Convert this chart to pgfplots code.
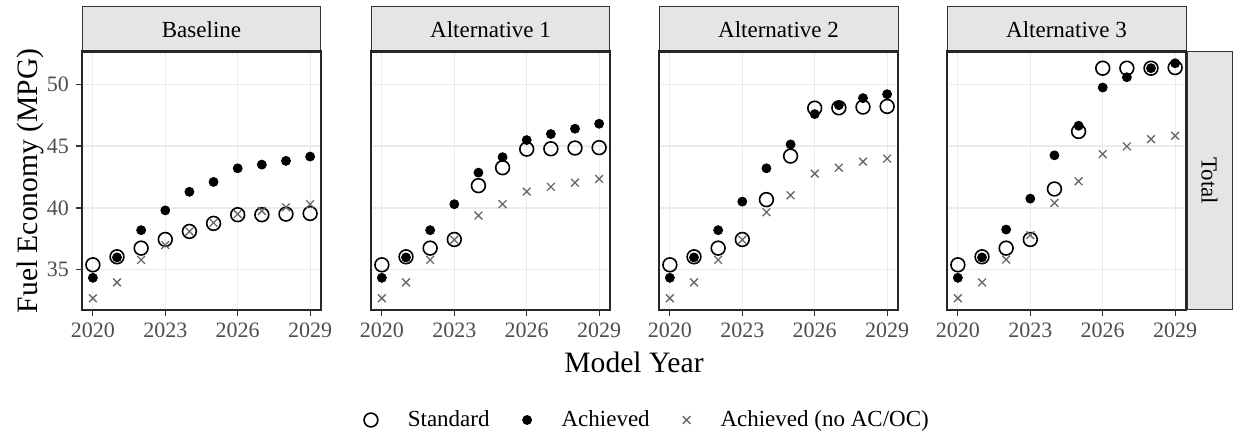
\documentclass[border=0pt]{standalone}
\usepackage{pgfplots}
\pgfplotsset{compat=1.18}
\usepackage{pgfplotstable}
\usepackage{fontspec}
\setmainfont{Liberation Serif}
\definecolor{gridc}{RGB}{235,235,235}
\definecolor{stripfill}{RGB}{229,229,229}
\definecolor{tickgray}{RGB}{77,77,77}
\definecolor{borderc}{RGB}{51,51,51}
\definecolor{xgray}{RGB}{105,105,105}

\pgfplotstableread{
year std ach noac
2020 35.40 34.35 32.70
2021 36.05 36.00 33.98
2022 36.75 38.20 35.80
2023 37.45 39.80 37.00
2024 38.10 41.30 38.10
2025 38.75 42.10 38.80
2026 39.45 43.20 39.50
2027 39.45 43.50 39.75
2028 39.50 43.80 40.05
2029 39.55 44.15 40.30
}\basetab

\pgfplotstableread{
year std ach noac
2020 35.40 34.35 32.70
2021 36.05 36.00 33.98
2022 36.75 38.20 35.80
2023 37.45 40.30 37.42
2024 41.80 42.85 39.38
2025 43.25 44.10 40.30
2026 44.75 45.48 41.32
2027 44.78 45.97 41.70
2028 44.84 46.40 42.04
2029 44.87 46.80 42.34
}\altone

\pgfplotstableread{
year std ach noac
2020 35.40 34.35 32.70
2021 36.05 36.00 33.98
2022 36.75 38.20 35.80
2023 37.45 40.51 37.42
2024 40.67 43.20 39.65
2025 44.19 45.13 41.02
2026 48.06 47.58 42.77
2027 48.09 48.30 43.25
2028 48.15 48.87 43.74
2029 48.20 49.19 43.98
}\alttwo

\pgfplotstableread{
year std ach noac
2020 35.40 34.35 32.70
2021 36.05 36.00 33.98
2022 36.75 38.25 35.83
2023 37.45 40.75 37.80
2024 41.53 44.25 40.40
2025 46.18 46.64 42.15
2026 51.29 49.73 44.35
2027 51.29 50.56 44.97
2028 51.29 51.29 45.56
2029 51.34 51.69 45.83
}\altthree

\pgfplotsset{
  panel/.style={
    anchor=south west, scale only axis, width=119.5pt, height=129.25pt,
    xmin=2019.55, xmax=2029.45, ymin=31.75, ymax=52.64,
    xtick={2020,2023,2026,2029}, ytick={35,40,45,50},
    /pgf/number format/1000 sep={}, /pgf/number format/assume math mode=true,
    grid=major, major grid style={draw=gridc, line width=0.6pt},
    axis line style={draw=black!85, line width=1.1pt},
    tick align=outside, tick pos=left, major tick length=3pt,
    tick style={draw=borderc, line width=0.6pt},
    ticklabel style={font=\fontsize{11}{13}\selectfont, text=tickgray},
  },
  noy/.style={yticklabels={}, ytick style={draw=none}},
  std/.style={black, only marks, mark=o, mark size=3.45pt, mark options={draw=black, line width=0.8pt, fill=none}},
  ach/.style={black, only marks, mark=*, mark size=2.25pt, mark options={draw=black, fill=black}},
  noac/.style={xgray, only marks, mark=x, mark size=2.75pt, mark options={draw=xgray, line width=0.65pt}},
}
\tikzset{stripstyle/.style={fill=stripfill, draw=borderc, line width=0.5pt},
  topline/.style={draw=black!85, line width=1.1pt}}
\newcommand\stripfont{\fontsize{11.5}{13}\selectfont}

\begin{document}
\begin{tikzpicture}
\useasboundingbox (0,0) rectangle (617.5pt,222pt);

\begin{axis}[panel, name=p1, at={(41pt,67pt)},
  ylabel={Fuel Economy (MPG)},
  ylabel style={font=\fontsize{14.8}{17}\selectfont, at={(axis description cs:-0.2176,0.5)}, anchor=center},
  legend columns=3,
  legend style={draw=none, fill=none, font=\fontsize{11.5}{13}\selectfont,
    at={(axis description cs:2.37,-0.4255)}, anchor=center,
    /tikz/every even column/.append style={column sep=14.5pt},
    /tikz/every odd column/.append style={column sep=13pt}},
  legend image code/.code={\draw[#1] plot coordinates {(0pt,0pt)};},
]
\addplot[std] table[x=year,y=std] {\basetab};
\addplot[ach] table[x=year,y=ach] {\basetab};
\addplot[noac] table[x=year,y=noac] {\basetab};
\legend{Standard, Achieved, Achieved (no AC/OC)}
\end{axis}
\draw[stripstyle] (p1.north west) rectangle ([yshift=22.25pt]p1.north east);
\draw[topline] (p1.north west) -- (p1.north east);
\node[font=\stripfont] at ([yshift=11.1pt]p1.north) {Baseline};

\begin{axis}[panel, noy, name=p2, at={(185.5pt,67pt)}]
\addplot[std] table[x=year,y=std] {\altone};
\addplot[ach] table[x=year,y=ach] {\altone};
\addplot[noac] table[x=year,y=noac] {\altone};
\end{axis}
\draw[stripstyle] (p2.north west) rectangle ([yshift=22.25pt]p2.north east);
\draw[topline] (p2.north west) -- (p2.north east);
\node[font=\stripfont] at ([yshift=11.1pt]p2.north) {Alternative 1};

\begin{axis}[panel, noy, name=p3, at={(329.5pt,67pt)}]
\addplot[std] table[x=year,y=std] {\alttwo};
\addplot[ach] table[x=year,y=ach] {\alttwo};
\addplot[noac] table[x=year,y=noac] {\alttwo};
\end{axis}
\draw[stripstyle] (p3.north west) rectangle ([yshift=22.25pt]p3.north east);
\draw[topline] (p3.north west) -- (p3.north east);
\node[font=\stripfont] at ([yshift=11.1pt]p3.north) {Alternative 2};

\begin{axis}[panel, noy, name=p4, at={(473.5pt,67pt)}]
\addplot[std] table[x=year,y=std] {\altthree};
\addplot[ach] table[x=year,y=ach] {\altthree};
\addplot[noac] table[x=year,y=noac] {\altthree};
\end{axis}
\draw[stripstyle] (p4.north west) rectangle ([yshift=22.25pt]p4.north east);
\draw[stripstyle] ([xshift=0.6pt]p4.south east) rectangle ([xshift=23pt]p4.north east);
\draw[topline] (p4.north west) -- (p4.north east) -- (p4.south east);
\node[font=\stripfont] at ([yshift=11.1pt]p4.north) {Alternative 3};
\node[font=\stripfont, rotate=-90] at ([xshift=11.8pt]p4.east) {Total};

\node[font=\fontsize{14.8}{17}\selectfont, anchor=base] at (317pt,35.5pt) {Model Year};
\end{tikzpicture}
\end{document}
